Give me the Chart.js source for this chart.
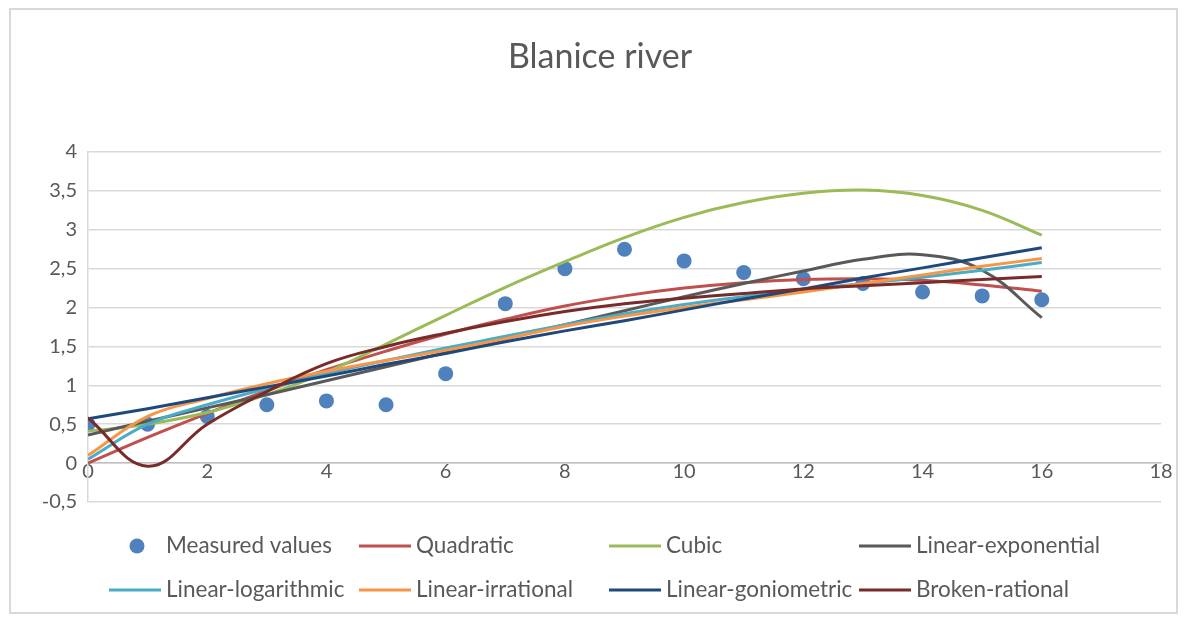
<!DOCTYPE html>
<html>
<head>
<meta charset="utf-8">
<title>Blanice river</title>
<script src="https://cdn.jsdelivr.net/npm/chart.js@4.4.1/dist/chart.umd.min.js"></script>
<style>
  html, body { margin: 0; padding: 0; background: #ffffff; }
  #wrap { width: 1184px; height: 621px; position: relative; }
</style>
</head>
<body>
<div id="wrap"><canvas id="chart" width="1184" height="621"></canvas></div>
<script>
// Time steps along the horizontal axis
const xValues = [0, 1, 2, 3, 4, 5, 6, 7, 8, 9, 10, 11, 12, 13, 14, 15, 16];

// Observed values
const measuredValues = [0.5, 0.5, 0.6, 0.75, 0.8, 0.75, 1.15, 2.05, 2.5, 2.75, 2.6, 2.45, 2.37, 2.31, 2.2, 2.15, 2.1];

// Fitted models evaluated at the same steps
const quadratic = [0.0, 0.33, 0.64, 0.93, 1.2, 1.44, 1.66, 1.85, 2.02, 2.15, 2.25, 2.32, 2.36, 2.37, 2.35, 2.29, 2.21];
const cubic = [0.41, 0.5, 0.65, 0.88, 1.17, 1.53, 1.9, 2.26, 2.59, 2.9, 3.16, 3.35, 3.47, 3.51, 3.44, 3.25, 2.93];
const linearExponential = [0.36, 0.54, 0.71, 0.88, 1.06, 1.24, 1.42, 1.6, 1.78, 1.96, 2.14, 2.31, 2.47, 2.62, 2.68, 2.48, 1.87];
const linearLogarithmic = [0.05, 0.5, 0.75, 0.96, 1.15, 1.32, 1.48, 1.63, 1.78, 1.92, 2.04, 2.14, 2.23, 2.31, 2.39, 2.48, 2.58];
const linearIrrational = [0.1, 0.6, 0.83, 1.02, 1.18, 1.32, 1.45, 1.6, 1.76, 1.89, 2.0, 2.1, 2.2, 2.31, 2.42, 2.53, 2.63];
const linearGoniometric = [0.57, 0.7, 0.84, 0.98, 1.12, 1.27, 1.41, 1.56, 1.7, 1.83, 1.97, 2.11, 2.24, 2.38, 2.51, 2.64, 2.77];
const brokenRational = [0.58, -0.04, 0.5, 0.92, 1.28, 1.5, 1.67, 1.82, 1.95, 2.05, 2.12, 2.18, 2.24, 2.28, 2.32, 2.36, 2.4];

const seriesNames = ['Measured values', 'Quadratic', 'Cubic', 'Linear-exponential',
  'Linear-logarithmic', 'Linear-irrational', 'Linear-goniometric', 'Broken-rational'];
const seriesValues = [measuredValues, quadratic, cubic, linearExponential,
  linearLogarithmic, linearIrrational, linearGoniometric, brokenRational];
const seriesColors = ['#4F81BD', '#C0504D', '#9BBB59', '#595959',
  '#4BACC6', '#F79646', '#1F497D', '#772C2A'];

const chartTitle = 'Blanice river';
const TEXT_COLOR = '#595959';
const FONT_FAMILY = 'Lato, "Open Sans", sans-serif';

const datasets = seriesValues.map((vals, i) => {
  const points = xValues.map((x, k) => ({ x: x, y: vals[k] }));
  if (i === 0) {
    return {
      label: seriesNames[i],
      data: points,
      showLine: false,
      pointRadius: 7.5,
      pointHoverRadius: 7.5,
      pointBackgroundColor: seriesColors[i],
      pointBorderColor: seriesColors[i],
      pointBorderWidth: 0,
      order: seriesNames.length
    };
  }
  return {
    label: seriesNames[i],
    data: points,
    showLine: true,
    borderColor: seriesColors[i],
    backgroundColor: seriesColors[i],
    borderWidth: 3,
    pointRadius: 0,
    pointHoverRadius: 0,
    tension: 0.4,
    fill: false,
    order: seriesNames.length - i
  };
});

// White page, thin frame around the whole chart and the title
const framePlugin = {
  id: 'frame',
  beforeDraw(chart) {
    const ctx = chart.ctx;
    ctx.save();
    ctx.fillStyle = '#ffffff';
    ctx.fillRect(0, 0, chart.width, chart.height);
    ctx.strokeStyle = '#D9D9D9';
    ctx.lineWidth = 2;
    ctx.strokeRect(10, 9, 1167, 604);
    ctx.fillStyle = TEXT_COLOR;
    ctx.font = '34px ' + FONT_FAMILY;
    ctx.textAlign = 'center';
    ctx.textBaseline = 'middle';
    ctx.fillText(chartTitle, 600, 57);
    ctx.restore();
  }
};

// Two-row legend laid out in fixed columns under the plot
const legendColumns = [109, 359, 609, 859];
const legendRows = [546, 590];
const gridLegendPlugin = {
  id: 'gridLegend',
  afterDraw(chart) {
    const ctx = chart.ctx;
    ctx.save();
    ctx.font = '22.5px ' + FONT_FAMILY;
    ctx.textBaseline = 'middle';
    ctx.textAlign = 'left';
    chart.data.datasets.forEach((ds, i) => {
      const x = legendColumns[i % 4];
      const y = legendRows[Math.floor(i / 4)];
      if (ds.showLine === false) {
        ctx.fillStyle = ds.pointBackgroundColor;
        ctx.beginPath();
        ctx.arc(x + 28, y, 7.5, 0, Math.PI * 2);
        ctx.fill();
      } else {
        ctx.strokeStyle = ds.borderColor;
        ctx.lineWidth = 3;
        ctx.beginPath();
        ctx.moveTo(x, y);
        ctx.lineTo(x + 52, y);
        ctx.stroke();
      }
      ctx.fillStyle = TEXT_COLOR;
      ctx.fillText(ds.label, x + 57, y);
    });
    ctx.restore();
  }
};

new Chart(document.getElementById('chart'), {
  type: 'scatter',
  data: { datasets: datasets },
  options: {
    responsive: false,
    animation: false,
    devicePixelRatio: 1,
    layout: { padding: { left: 0, right: 23, top: 152, bottom: 119 } },
    plugins: {
      legend: { display: false },
      tooltip: { enabled: false },
      title: { display: false }
    },
    scales: {
      x: {
        type: 'linear',
        min: 0,
        max: 18,
        position: { y: 0 },
        grid: { display: false, drawTicks: false },
        border: { display: true, color: '#BFBFBF', width: 1.5 },
        ticks: {
          stepSize: 2,
          padding: -4,
          color: TEXT_COLOR,
          font: { family: FONT_FAMILY, size: 20 },
          maxRotation: 0
        }
      },
      y: {
        type: 'linear',
        min: -0.5,
        max: 4,
        position: 'left',
        afterFit(scale) { scale.width = 88; },
        grid: { color: '#D9D9D9', lineWidth: 1.5, drawTicks: false },
        border: { display: true, color: '#D9D9D9', width: 1.5 },
        ticks: {
          stepSize: 0.5,
          padding: 11,
          color: TEXT_COLOR,
          font: { family: FONT_FAMILY, size: 20 },
          callback: (v) => String(v).replace('.', ',')
        }
      }
    }
  },
  plugins: [framePlugin, gridLegendPlugin]
});
</script>
</body>
</html>
